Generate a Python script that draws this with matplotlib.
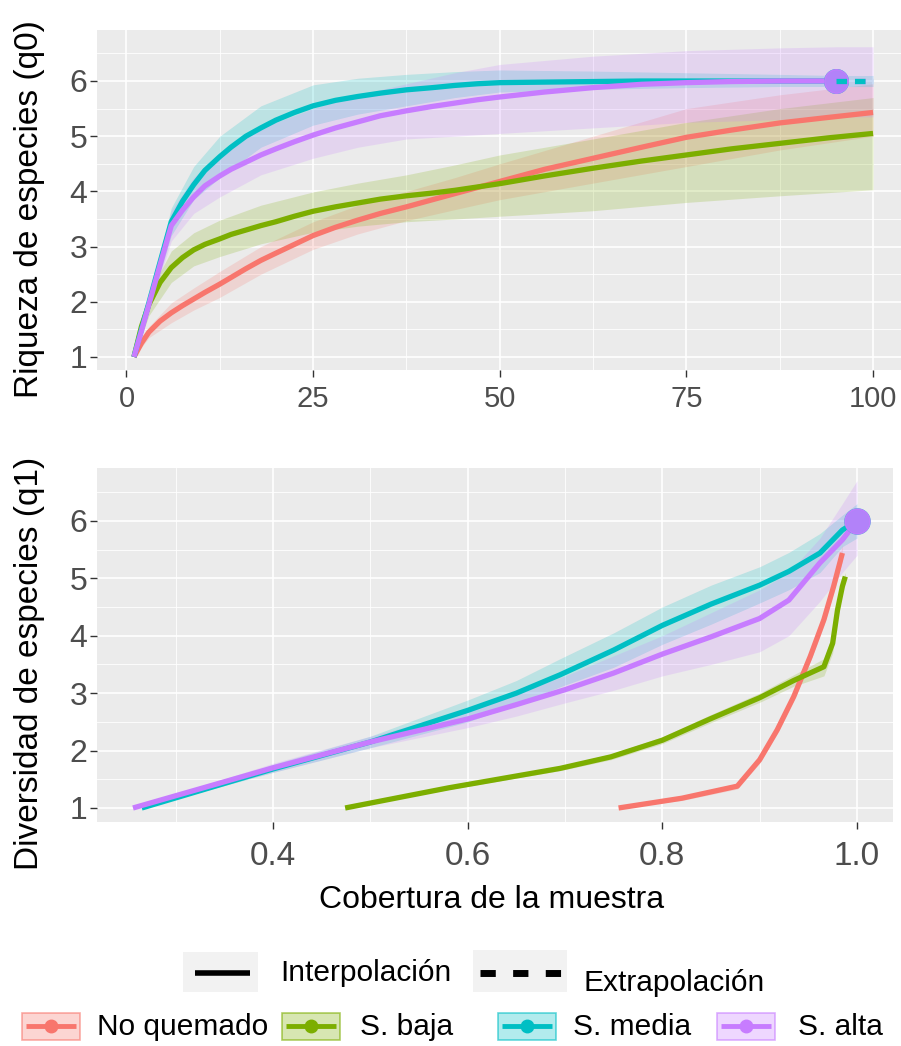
import matplotlib
matplotlib.use("Agg")
import matplotlib.pyplot as plt
from matplotlib.patches import Rectangle

W, H = 901, 1046  # figure size in pixels (dpi 100)

GROUPS = ["No quemado", "S. baja", "S. media", "S. alta"]
COLORS = ["#F8766D", "#7CAE00", "#00BFC4", "#C77CFF"]

# ---- q0: species richness vs number of sampling units ----
m0 = [1, 2, 3, 4.5, 6, 7.5, 9, 10.5, 12.5, 14, 16, 18, 20, 22.5, 25, 28, 31, 34,
      37.5, 41, 44, 47, 50, 56, 62.5, 69, 75, 81, 87.5, 94, 100]
noq_q0 = [1.0, 1.25, 1.45, 1.65, 1.8, 1.93, 2.05, 2.17, 2.32, 2.44, 2.6, 2.75, 2.88, 3.04,
          3.2, 3.35, 3.48, 3.6, 3.72, 3.85, 3.96, 4.07, 4.18, 4.4, 4.6, 4.8, 4.98, 5.11,
          5.24, 5.34, 5.43]
baja_q0 = [1.0, 1.55, 1.95, 2.35, 2.62, 2.8, 2.94, 3.04, 3.14, 3.22, 3.3, 3.38, 3.45, 3.55,
           3.64, 3.72, 3.79, 3.86, 3.92, 3.97, 4.02, 4.08, 4.14, 4.28, 4.42, 4.55, 4.66,
           4.77, 4.87, 4.97, 5.05]
m0_obs = [1, 2, 3, 4.5, 6, 7.5, 9, 10.5, 12.5, 14, 16, 18, 20, 22.5, 25, 28, 31, 34,
          37.5, 41, 44, 47, 50, 56, 62.5, 69, 75, 81, 87.5, 95]
media_q0 = [1.0, 1.5, 1.98, 2.72, 3.45, 3.82, 4.12, 4.38, 4.63, 4.8, 5.0, 5.15, 5.29, 5.43,
            5.55, 5.65, 5.72, 5.78, 5.84, 5.88, 5.92, 5.95, 5.97, 5.98, 5.99, 6.0, 6.0,
            6.0, 6.0, 6.0]
alta_q0 = [1.0, 1.47, 1.95, 2.67, 3.38, 3.66, 3.9, 4.1, 4.28, 4.4, 4.53, 4.66, 4.77, 4.9,
           5.02, 5.15, 5.26, 5.37, 5.46, 5.54, 5.6, 5.66, 5.71, 5.8, 5.88, 5.94, 5.97,
           5.99, 6.0, 6.0]

# extrapolated part (dashed) beyond the observed sample
ext_m0 = [95, 100]
media_q0_ext = [6.0, 6.0]
alta_q0_ext = [6.0, 6.0]
obs_m0 = 95
obs_q0 = 6.0

# confidence bands
band_m0 = [1, 3, 6, 9, 12.5, 18, 25, 31, 37.5, 44, 50, 62.5, 75, 87.5, 100]
noq_q0_lo = [1.0, 1.35, 1.62, 1.85, 2.08, 2.5, 2.95, 3.23, 3.47, 3.67, 3.85, 4.15, 4.45, 4.75, 5.0]
noq_q0_hi = [1.0, 1.55, 1.98, 2.25, 2.55, 3.0, 3.45, 3.75, 4.0, 4.25, 4.5, 5.0, 5.5, 5.75, 5.95]
baja_q0_lo = [1.0, 1.75, 2.35, 2.65, 2.82, 3.05, 3.26, 3.37, 3.45, 3.5, 3.55, 3.65, 3.8, 3.92, 4.03]
baja_q0_hi = [1.0, 2.15, 2.92, 3.25, 3.48, 3.75, 3.99, 4.15, 4.3, 4.48, 4.66, 4.95, 5.25, 5.5, 5.7]
band_m0_obs = [1, 3, 6, 9, 12.5, 18, 25, 31, 37.5, 44, 50, 62.5, 75, 87.5, 95, 100]
media_q0_lo = [1.0, 1.85, 3.2, 3.85, 4.25, 4.8, 5.2, 5.4, 5.55, 5.7, 5.8, 5.85, 5.88, 5.9, 5.9, 5.9]
media_q0_hi = [1.0, 2.1, 3.7, 4.45, 5.0, 5.55, 5.93, 6.05, 6.12, 6.17, 6.2, 6.18, 6.15, 6.12, 6.1, 6.1]
alta_q0_lo = [1.0, 1.85, 3.1, 3.6, 3.9, 4.3, 4.6, 4.8, 4.95, 5.0, 5.05, 5.15, 5.25, 5.3, 5.35, 5.35]
alta_q0_hi = [1.0, 2.05, 3.65, 4.25, 4.7, 5.15, 5.5, 5.75, 5.95, 6.15, 6.3, 6.45, 6.55, 6.6, 6.62, 6.62]

# ---- q1: species diversity vs sample coverage ----
noq_cov = [0.755, 0.82, 0.877, 0.9, 0.918, 0.935, 0.952, 0.966, 0.976, 0.985]
noq_q1 = [1.0, 1.17, 1.38, 1.84, 2.36, 2.94, 3.64, 4.28, 4.86, 5.44]
noq_q1_lo = [1.0, 1.13, 1.33, 1.78, 2.3, 2.87, 3.55, 4.18, 4.75, 5.3]
noq_q1_hi = [1.0, 1.21, 1.43, 1.9, 2.42, 3.01, 3.73, 4.38, 4.97, 5.58]
baja_cov = [0.474, 0.58, 0.695, 0.747, 0.8, 0.849, 0.9, 0.935, 0.966, 0.975, 0.98, 0.985, 0.988]
baja_q1 = [1.0, 1.35, 1.69, 1.89, 2.18, 2.55, 2.92, 3.22, 3.46, 3.87, 4.45, 4.86, 5.03]
baja_q1_lo = [1.0, 1.32, 1.65, 1.84, 2.12, 2.48, 2.84, 3.12, 3.3, 3.7, 4.3, 4.75, 4.95]
baja_q1_hi = [1.0, 1.38, 1.73, 1.94, 2.24, 2.62, 3.0, 3.32, 3.6, 4.02, 4.6, 4.97, 5.1]
media_cov = [0.265, 0.4, 0.5, 0.6, 0.65, 0.695, 0.75, 0.8, 0.85, 0.9, 0.93, 0.962, 0.985, 1.0]
media_q1 = [1.0, 1.68, 2.15, 2.7, 3.0, 3.32, 3.75, 4.18, 4.55, 4.88, 5.12, 5.44, 5.84, 6.0]
media_q1_lo = [1.0, 1.62, 2.05, 2.5, 2.8, 3.11, 3.45, 3.85, 4.2, 4.57, 4.8, 5.1, 5.55, 5.7]
media_q1_hi = [1.0, 1.76, 2.25, 2.88, 3.22, 3.6, 4.05, 4.5, 4.88, 5.2, 5.45, 5.78, 6.1, 6.3]
alta_cov = [0.256, 0.4, 0.5, 0.6, 0.65, 0.7, 0.75, 0.8, 0.85, 0.9, 0.93, 0.962, 0.985, 1.0]
alta_q1 = [1.0, 1.7, 2.15, 2.55, 2.8, 3.06, 3.35, 3.68, 3.98, 4.3, 4.62, 5.27, 5.67, 6.0]
alta_q1_lo = [1.0, 1.62, 2.05, 2.4, 2.6, 2.83, 3.05, 3.3, 3.5, 3.72, 4.0, 4.6, 5.1, 5.4]
alta_q1_hi = [1.0, 1.78, 2.25, 2.7, 3.0, 3.3, 3.65, 4.0, 4.4, 4.8, 5.1, 5.7, 6.3, 6.7]
obs_cov = 1.0
obs_q1 = 6.0

q0_xticks = [0, 25, 50, 75, 100]
q1_xticks = [0.4, 0.6, 0.8, 1.0]
y_ticks = [1, 2, 3, 4, 5, 6]

FONT = "Liberation Sans"
TICK_COLOR = "#4D4D4D"
LW = 3.8


def px_rect(left, top, right, bottom):
    return [left / W, 1 - bottom / H, (right - left) / W, (bottom - top) / H]


def style_panel(ax, xticks, xminor, xsize, xpad):
    ax.set_facecolor("#EBEBEB")
    for s in ax.spines.values():
        s.set_visible(False)
    ax.set_xticks(xticks)
    ax.set_xticks(xminor, minor=True)
    ax.set_yticks(y_ticks)
    ax.set_yticks([1.5, 2.5, 3.5, 4.5, 5.5, 6.5], minor=True)
    ax.grid(which="major", color="white", lw=1.2)
    ax.grid(which="minor", color="white", lw=0.6)
    ax.set_axisbelow(True)
    ax.tick_params(which="minor", length=0)
    ax.tick_params(which="major", length=5, width=1, color="#333333")
    ax.tick_params(axis="y", labelsize=23, labelcolor=TICK_COLOR, pad=2)
    ax.tick_params(axis="x", labelsize=xsize, labelcolor=TICK_COLOR, pad=xpad)
    for lab in ax.get_xticklabels() + ax.get_yticklabels():
        lab.set_family(FONT)


fig = plt.figure(figsize=(W / 100, H / 100), dpi=100)
fig.patch.set_facecolor("white")

# ---------------- richness panel ----------------
ax0 = fig.add_axes(px_rect(97, 30, 910, 370))
ax0.set_xlim(-3.95, 104.95)
ax0.set_ylim(0.764, 6.924)

q0_bands = [
    (band_m0, noq_q0_lo, noq_q0_hi),
    (band_m0, baja_q0_lo, baja_q0_hi),
    (band_m0_obs, media_q0_lo, media_q0_hi),
    (band_m0_obs, alta_q0_lo, alta_q0_hi),
]
for (bx, lo, hi), c in zip(q0_bands, COLORS):
    ax0.fill_between(bx, lo, hi, color=c, alpha=0.2, lw=0)

q0_lines = [(m0, noq_q0), (m0, baja_q0), (m0_obs, media_q0), (m0_obs, alta_q0)]
for (x, y), c in zip(q0_lines, COLORS):
    ax0.plot(x, y, color=c, lw=LW, solid_capstyle="butt", solid_joinstyle="round")

ax0.plot(obs_m0, obs_q0, "o", color=COLORS[2], ms=17, zorder=4)
ax0.plot(obs_m0, obs_q0, "o", color=COLORS[3], ms=17, alpha=0.9, zorder=5)
ax0.plot(ext_m0, alta_q0_ext, color=COLORS[3], lw=LW, ls=(0, (2, 1.5)), zorder=5)
ax0.plot(ext_m0, media_q0_ext, color=COLORS[2], lw=LW, ls=(0, (2, 1.5)), zorder=6)

style_panel(ax0, q0_xticks, [12.5, 37.5, 62.5, 87.5], 21, 6)

# ---------------- diversity panel ----------------
ax1 = fig.add_axes(px_rect(97, 468, 893, 822))
ax1.set_xlim(0.219, 1.037)
ax1.set_ylim(0.756, 6.92)

q1_bands = [
    (noq_cov, noq_q1_lo, noq_q1_hi),
    (baja_cov, baja_q1_lo, baja_q1_hi),
    (media_cov, media_q1_lo, media_q1_hi),
    (alta_cov, alta_q1_lo, alta_q1_hi),
]
for (bx, lo, hi), c in zip(q1_bands, COLORS):
    ax1.fill_between(bx, lo, hi, color=c, alpha=0.2, lw=0)

q1_lines = [(noq_cov, noq_q1), (baja_cov, baja_q1), (media_cov, media_q1), (alta_cov, alta_q1)]
for (x, y), c in zip(q1_lines, COLORS):
    ax1.plot(x, y, color=c, lw=LW, solid_capstyle="butt", solid_joinstyle="round")

ax1.plot(obs_cov, obs_q1, "o", color=COLORS[2], ms=18, zorder=4)
ax1.plot(obs_cov, obs_q1, "o", color=COLORS[3], ms=18, alpha=0.9, zorder=5)

style_panel(ax1, q1_xticks, [0.3, 0.5, 0.7, 0.9], 24, 9)
ax1.set_xticklabels(["0.4", "0.6", "0.8", "1.0"])
for lab in ax1.get_xticklabels():
    lab.set_family(FONT)

# ---------------- axis titles ----------------
fig.text(30 / W, 1 - 209 / H, "Riqueza de especies (q0)", rotation=90,
         ha="center", va="center", fontsize=24, family=FONT)
fig.text(30 / W, 1 - 663 / H, "Diversidad de especies (q1)", rotation=90,
         ha="center", va="center", fontsize=24, family=FONT)
fig.text(492 / W, 1 - 900 / H, "Cobertura de la muestra",
         ha="center", va="center", fontsize=23, family=FONT)

# ---------------- legend (drawn in pixel space) ----------------
lg = fig.add_axes([0, 0, 1, 1])
lg.set_xlim(0, W)
lg.set_ylim(H, 0)
lg.axis("off")
lg.patch.set_alpha(0)

LEG_FS = 21.5
lg.add_patch(Rectangle((183, 952), 75, 40, facecolor="#F2F2F2", lw=0))
lg.plot([195, 250], [973, 973], color="black", lw=4, solid_capstyle="butt")
lg.text(280, 973, "Interpolación", ha="left", va="center", fontsize=LEG_FS, family=FONT)
lg.add_patch(Rectangle((473, 950), 94, 42, facecolor="#F2F2F2", lw=0))
lg.plot([480, 562], [973, 973], color="black", lw=5, ls=(0, (2.2, 2.5)), dash_capstyle="butt")
lg.text(583, 983, "Extrapolación", ha="left", va="center", fontsize=LEG_FS, family=FONT)

key_left = [22, 282, 498, 717]
text_left = [97, 360, 573, 798]
for kx, tx, name, c in zip(key_left, text_left, GROUPS, COLORS):
    lg.add_patch(Rectangle((kx, 1013), 58, 27, facecolor=c, alpha=0.3, lw=0))
    lg.add_patch(Rectangle((kx, 1013), 58, 27, facecolor="none", edgecolor=c, lw=1.2, alpha=0.6))
    lg.plot([kx + 4, kx + 54], [1026, 1026], color=c, lw=3.5, solid_capstyle="butt")
    lg.plot(kx + 29, 1026, "o", color=c, ms=9)
    lg.text(tx, 1027, name, ha="left", va="center", fontsize=LEG_FS, family=FONT)

fig.savefig("out.png", dpi=100)
